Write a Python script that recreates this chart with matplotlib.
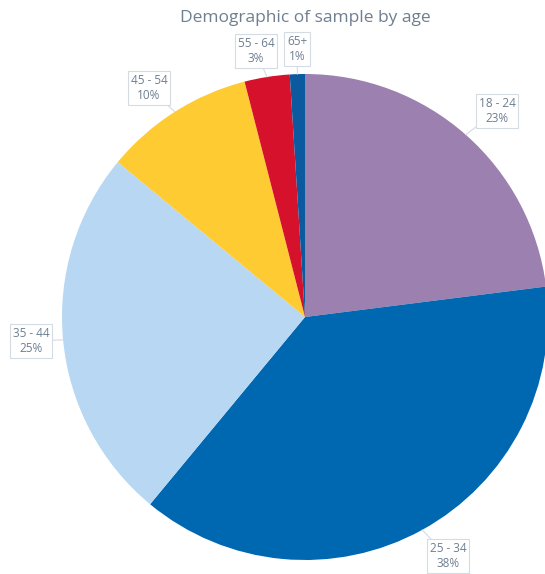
import matplotlib.pyplot as plt
import numpy as np

plt.rcParams['font.family'] = ['Open Sans', 'DejaVu Sans']

ages = ["18 - 24", "25 - 34", "35 - 44", "45 - 54", "55 - 64", "65+"]
shares = [23, 38, 25, 10, 3, 1]
colors = ["#9b80b0", "#0067b1", "#b8d7f2", "#ffcb33", "#d5112b", "#0b5aa0"]
# label box centres, pixel coords from top-left
label_px = [(497, 111), (448, 556), (31, 341), (149, 88), (256, 51), (297, 49)]

W, H = 545, 574
cx, cy, R = 305, 317, 243

fig = plt.figure(figsize=(W / 100, H / 100), dpi=100)
ax = fig.add_axes([0, 0, 1, 1])

wedges, _ = ax.pie(shares, colors=colors, startangle=90, counterclock=False,
                   radius=R, wedgeprops=dict(linewidth=0))

# pie() resets the limits, so set them afterwards
ax.set_xlim(-cx, W - cx)
ax.set_ylim(-(H - cy), cy)
ax.set_aspect('equal')
ax.axis('off')

txt_col = "#6e7f90"
for w, age, s, (px, py) in zip(wedges, ages, shares, label_px):
    mid = np.deg2rad((w.theta1 + w.theta2) / 2)
    edge = (R * np.cos(mid), R * np.sin(mid))
    ax.annotate(f"{age}\n{s}%", xy=edge, xytext=(px - cx, cy - py),
                ha='center', va='center', fontsize=8.5, color=txt_col,
                linespacing=1.25,
                bbox=dict(boxstyle="square,pad=0.22", fc="white", ec="#d3dbe3", lw=0.8),
                arrowprops=dict(arrowstyle='-', color="#d3dbe3", lw=0.8,
                                shrinkA=0, shrinkB=0))

fig.text(305 / W, 1 - 18 / H, "Demographic of sample by age", ha='center', va='center',
         fontsize=12.5, color=txt_col)

fig.savefig("out.png", dpi=100)
